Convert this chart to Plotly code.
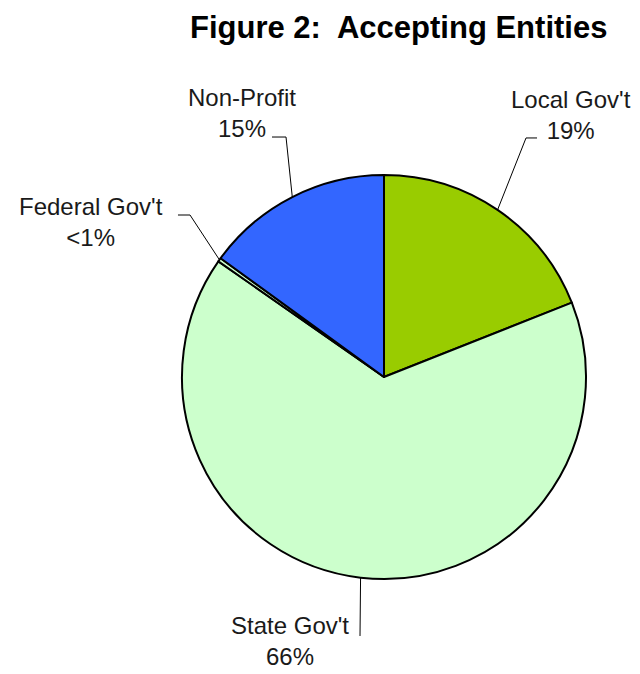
import math
import plotly.graph_objects as go

# ---- data ----
categories = ["Local Gov't", "State Gov't", "Federal Gov't", "Non-Profit"]
values = [19.0, 65.7, 0.3, 15.0]
pct_labels = ["19%", "66%", "<1%", "15%"]
colors = ["#99CC00", "#CCFFCC", "#CCFFCC", "#3366FF"]

W, H = 640, 674
CX, CY, R = 384, 377, 202  # pie centre / radius in pixels

# label block centres (pixels) and leader elbow points
label_pos = [(571, 115), (290, 641), (91, 222), (242, 113)]
elbows = [[(537, 138), (526, 138)], [(360, 636)], [(178, 215), (190, 215)], [(272, 137), (286, 137)]]

def px(x, y):
    return x / W, 1 - y / H

fig = go.Figure()
fig.add_trace(go.Pie(
    labels=categories, values=values, sort=False, direction="clockwise", rotation=0,
    marker=dict(colors=colors, line=dict(color="#000000", width=2)),
    textinfo="none", hoverinfo="label+percent", showlegend=False,
    domain=dict(x=[(CX - R) / W, (CX + R) / W], y=[(H - CY - R) / H, (H - CY + R) / H]),
))

shapes = []
annotations = []
total = sum(values)
cum = 0.0
for cat, v, p, (lx, ly), el in zip(categories, values, pct_labels, label_pos, elbows):
    mid = (cum + v / 2) / total * 2 * math.pi
    cum += v
    ex = CX + R * math.sin(mid)
    ey = CY - R * math.cos(mid)
    pts = el + [(ex, ey)]
    path = "M " + " L ".join("%.4f,%.4f" % px(x, y) for x, y in pts)
    shapes.append(dict(type="path", path=path, xref="paper", yref="paper",
                       line=dict(color="#000000", width=1)))
    ax, ay = px(lx, ly)
    annotations.append(dict(x=ax, y=ay, xref="paper", yref="paper", showarrow=False,
                            text=f"{cat}<br>{p}", align="center", xanchor="center", yanchor="middle",
                            font=dict(family="Liberation Sans, Arial", size=24, color="#1a1a1a")))

annotations.append(dict(x=398 / W, y=1 - 28 / H, xref="paper", yref="paper", showarrow=False,
                        text="<b>Figure 2:\u00a0 Accepting Entities</b>", xanchor="center", yanchor="middle",
                        font=dict(family="Liberation Sans, Arial", size=31, color="#000000")))

fig.update_layout(width=W, height=H, margin=dict(l=0, r=0, t=0, b=0),
                  paper_bgcolor="white", plot_bgcolor="white",
                  shapes=shapes, annotations=annotations)
fig.write_html("out.html")
